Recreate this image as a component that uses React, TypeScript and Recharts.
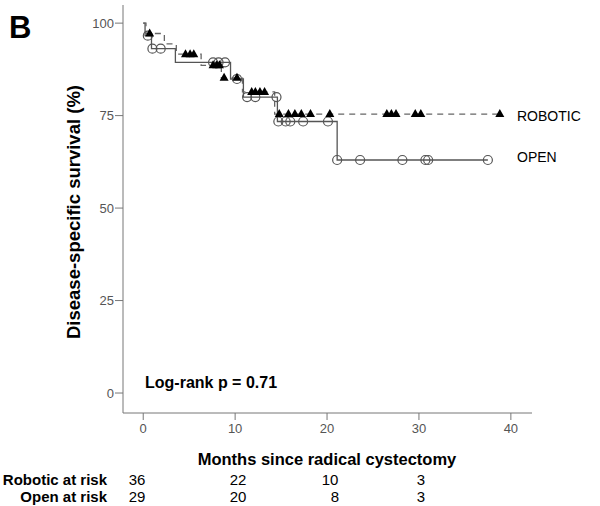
import React from 'react'
import { ComposedChart, Line, Scatter, XAxis, YAxis } from 'recharts'

// Kaplan-Meier steps (months, survival %)
const roboticSteps = [
  { t: 0, s: 100 },
  { t: 0.3, s: 97.2 },
  { t: 2.3, s: 94.4 },
  { t: 3.6, s: 91.6 },
  { t: 6.3, s: 88.6 },
  { t: 8.5, s: 85.2 },
  { t: 10.8, s: 81.4 },
  { t: 14.3, s: 75.4 },
  { t: 38.8, s: 75.4 },
]

const openSteps = [
  { t: 0, s: 100 },
  { t: 0.2, s: 96.6 },
  { t: 0.9, s: 93.1 },
  { t: 3.5, s: 89.4 },
  { t: 9.5, s: 84.9 },
  { t: 10.9, s: 80.0 },
  { t: 14.6, s: 73.4 },
  { t: 21.1, s: 63.0 },
  { t: 37.5, s: 63.0 },
]

// censored observations
const roboticCensored = [
  { t: 0.7, s: 97.2 },
  { t: 4.6, s: 91.6 },
  { t: 5.1, s: 91.6 },
  { t: 5.5, s: 91.6 },
  { t: 7.6, s: 88.6 },
  { t: 8.0, s: 88.6 },
  { t: 8.3, s: 88.6 },
  { t: 8.8, s: 85.2 },
  { t: 10.2, s: 85.2 },
  { t: 11.8, s: 81.4 },
  { t: 12.2, s: 81.4 },
  { t: 12.7, s: 81.4 },
  { t: 13.2, s: 81.4 },
  { t: 14.8, s: 75.4 },
  { t: 15.8, s: 75.4 },
  { t: 16.5, s: 75.4 },
  { t: 17.2, s: 75.4 },
  { t: 18.2, s: 75.4 },
  { t: 20.3, s: 75.4 },
  { t: 26.5, s: 75.4 },
  { t: 27.0, s: 75.4 },
  { t: 27.5, s: 75.4 },
  { t: 29.6, s: 75.4 },
  { t: 30.2, s: 75.4 },
  { t: 38.8, s: 75.4 },
]

const openCensored = [
  { t: 0.5, s: 96.6 },
  { t: 1.0, s: 93.1 },
  { t: 1.9, s: 93.1 },
  { t: 7.6, s: 89.4 },
  { t: 8.2, s: 89.4 },
  { t: 8.9, s: 89.4 },
  { t: 10.2, s: 84.9 },
  { t: 11.3, s: 80.0 },
  { t: 12.2, s: 80.0 },
  { t: 14.5, s: 80.0 },
  { t: 14.7, s: 73.4 },
  { t: 15.5, s: 73.4 },
  { t: 16.0, s: 73.4 },
  { t: 17.4, s: 73.4 },
  { t: 20.1, s: 73.4 },
  { t: 21.1, s: 63.0 },
  { t: 23.6, s: 63.0 },
  { t: 28.2, s: 63.0 },
  { t: 30.7, s: 63.0 },
  { t: 31.0, s: 63.0 },
  { t: 37.5, s: 63.0 },
]

const xTicks = [0, 10, 20, 30, 40]
const yTicks = [0, 25, 50, 75, 100]
const roboticAtRisk = ['36', '22', '10', '3']
const openAtRisk = ['29', '20', '8', '3']
const riskX = [137, 238, 330, 421]
const openRiskX = [137, 238, 335, 421]

const font = "Arial, 'Liberation Sans', sans-serif"

const Triangle = (props: any) => {
  const { cx, cy } = props
  if (cx == null || cy == null) return null
  return <path d={`M${cx},${cy - 5} L${cx + 4.5},${cy + 3} L${cx - 4.5},${cy + 3} Z`} fill="#000" />
}

const Ring = (props: any) => {
  const { cx, cy } = props
  if (cx == null || cy == null) return null
  return <circle cx={cx} cy={cy} r={4.5} fill="none" stroke="#555" strokeWidth={1.2} />
}

export default function App() {
  return (
    <div style={{ position: 'absolute', left: 0, top: 0, width: 600, height: 506, background: '#fff', fontFamily: font }}>
      <ComposedChart width={600} height={506} margin={{ top: 5, right: 68, bottom: 63, left: 0 }}>
        <XAxis
          dataKey="t"
          type="number"
          domain={[-2.2, 42.3]}
          ticks={xTicks}
          allowDataOverflow
          height={30}
          tickSize={7}
          tickMargin={4}
          stroke="#777"
          tick={{ fontSize: 13, fill: '#555', fontFamily: font }}
        />
        <YAxis
          type="number"
          domain={[-5.4, 104.9]}
          ticks={yTicks}
          allowDataOverflow
          width={123}
          tickSize={8}
          tickMargin={1}
          stroke="#777"
          tick={{ fontSize: 13, fill: '#555', fontFamily: font }}
        />
        <Line
          data={openSteps}
          dataKey="s"
          type="stepAfter"
          stroke="#555"
          strokeWidth={1.3}
          dot={false}
          isAnimationActive={false}
        />
        <Line
          data={roboticSteps}
          dataKey="s"
          type="stepAfter"
          stroke="#666"
          strokeWidth={1.3}
          strokeDasharray="6 5"
          dot={false}
          isAnimationActive={false}
        />
        <Scatter data={openCensored} dataKey="s" shape={<Ring />} isAnimationActive={false} />
        <Scatter data={roboticCensored} dataKey="s" shape={<Triangle />} isAnimationActive={false} />
      </ComposedChart>
      <svg width={600} height={506} style={{ position: 'absolute', left: 0, top: 0, pointerEvents: 'none' }} fontFamily={font}>
        <text x={9} y={38} fontSize={31} fontWeight="bold" fill="#000">B</text>
        <text x={0} y={0} transform="translate(80,212) rotate(-90)" textAnchor="middle" fontSize={18.5} fontWeight="bold" fill="#000">
          Disease-specific survival (%)
        </text>
        <text x={145} y={388} fontSize={16} fontWeight="bold" fill="#000">Log-rank p = 0.71</text>
        <text x={517} y={121} fontSize={14} fill="#000">ROBOTIC</text>
        <text x={517} y={162} fontSize={14} fill="#000">OPEN</text>
        <text x={327} y={465} textAnchor="middle" fontSize={16.5} fontWeight="bold" fill="#000">Months since radical cystectomy</text>
        <text x={107} y={485} textAnchor="end" fontSize={15} fontWeight="bold" fill="#000">Robotic at risk</text>
        <text x={107} y={502} textAnchor="end" fontSize={15} fontWeight="bold" fill="#000">Open at risk</text>
        {roboticAtRisk.map((v, i) => (
          <text key={'r' + i} x={riskX[i]} y={485} textAnchor="middle" fontSize={15} fill="#000">{v}</text>
        ))}
        {openAtRisk.map((v, i) => (
          <text key={'o' + i} x={openRiskX[i]} y={502} textAnchor="middle" fontSize={15} fill="#000">{v}</text>
        ))}
      </svg>
    </div>
  )
}
